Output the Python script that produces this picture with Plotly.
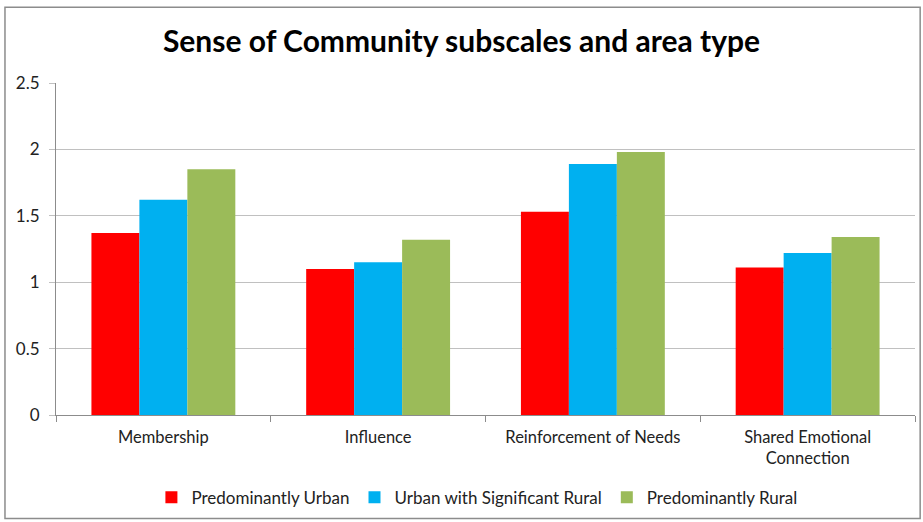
import plotly.graph_objects as go

categories = ["Membership", "Influence", "Reinforcement of Needs", "Shared Emotional<br>Connection"]
urban = [1.37, 1.10, 1.53, 1.11]
urban_sig_rural = [1.62, 1.15, 1.89, 1.22]
rural = [1.85, 1.32, 1.98, 1.34]
series_names = ["Predominantly Urban", "Urban with Significant Rural", "Predominantly Rural"]
colors = ["#ff0000", "#00b0f0", "#9bbb59"]

FONT = "Lato, Open Sans, sans-serif"

fig = go.Figure()
for name, vals, col in zip(series_names, [urban, urban_sig_rural, rural], colors):
    fig.add_trace(go.Bar(x=categories, y=vals, name=name, marker_color=col, marker_line_width=0))

fig.update_layout(
    width=923, height=522,
    margin=dict(l=56, r=8, t=83, b=106),
    paper_bgcolor="white", plot_bgcolor="white",
    barmode="group", bargap=0.33, bargroupgap=0,
    title=dict(text="<b>Sense of Community subscales and area type</b>",
               x=0.5, xanchor="center", y=0.92, yanchor="middle",
               font=dict(family=FONT, size=30, color="black")),
    font=dict(family=FONT, size=16, color="#222"),
    legend=dict(orientation="h", x=0.49, xanchor="center", y=-0.245, yanchor="middle",
                font=dict(family=FONT, size=17, color="#222"), itemwidth=30,
                traceorder="normal"),
    showlegend=True,
)
fig.update_yaxes(range=[0, 2.5], dtick=0.5, showgrid=True, gridcolor="#c0c0c0",
                 ticks="outside", ticklen=6, tickcolor="#c0c0c0",
                 showline=True, linecolor="#8c8c8c", zeroline=False,
                 ticklabelstandoff=6,
                 tickfont=dict(family=FONT, size=17, color="#222"))
fig.update_xaxes(showline=True, linecolor="#8c8c8c", ticks="outside", tickson="boundaries",
                 ticklen=6, tickcolor="#8c8c8c", ticklabelstandoff=7,
                 tickfont=dict(family=FONT, size=16.5, color="#222"))
fig.add_shape(type="rect", xref="paper", yref="paper", x0=-0.0594, x1=1.006, y0=-0.312, y1=1.228,
              line=dict(color="#8c8c8c", width=1.5), fillcolor="rgba(0,0,0,0)", layer="below")

fig.write_html("out.html")
